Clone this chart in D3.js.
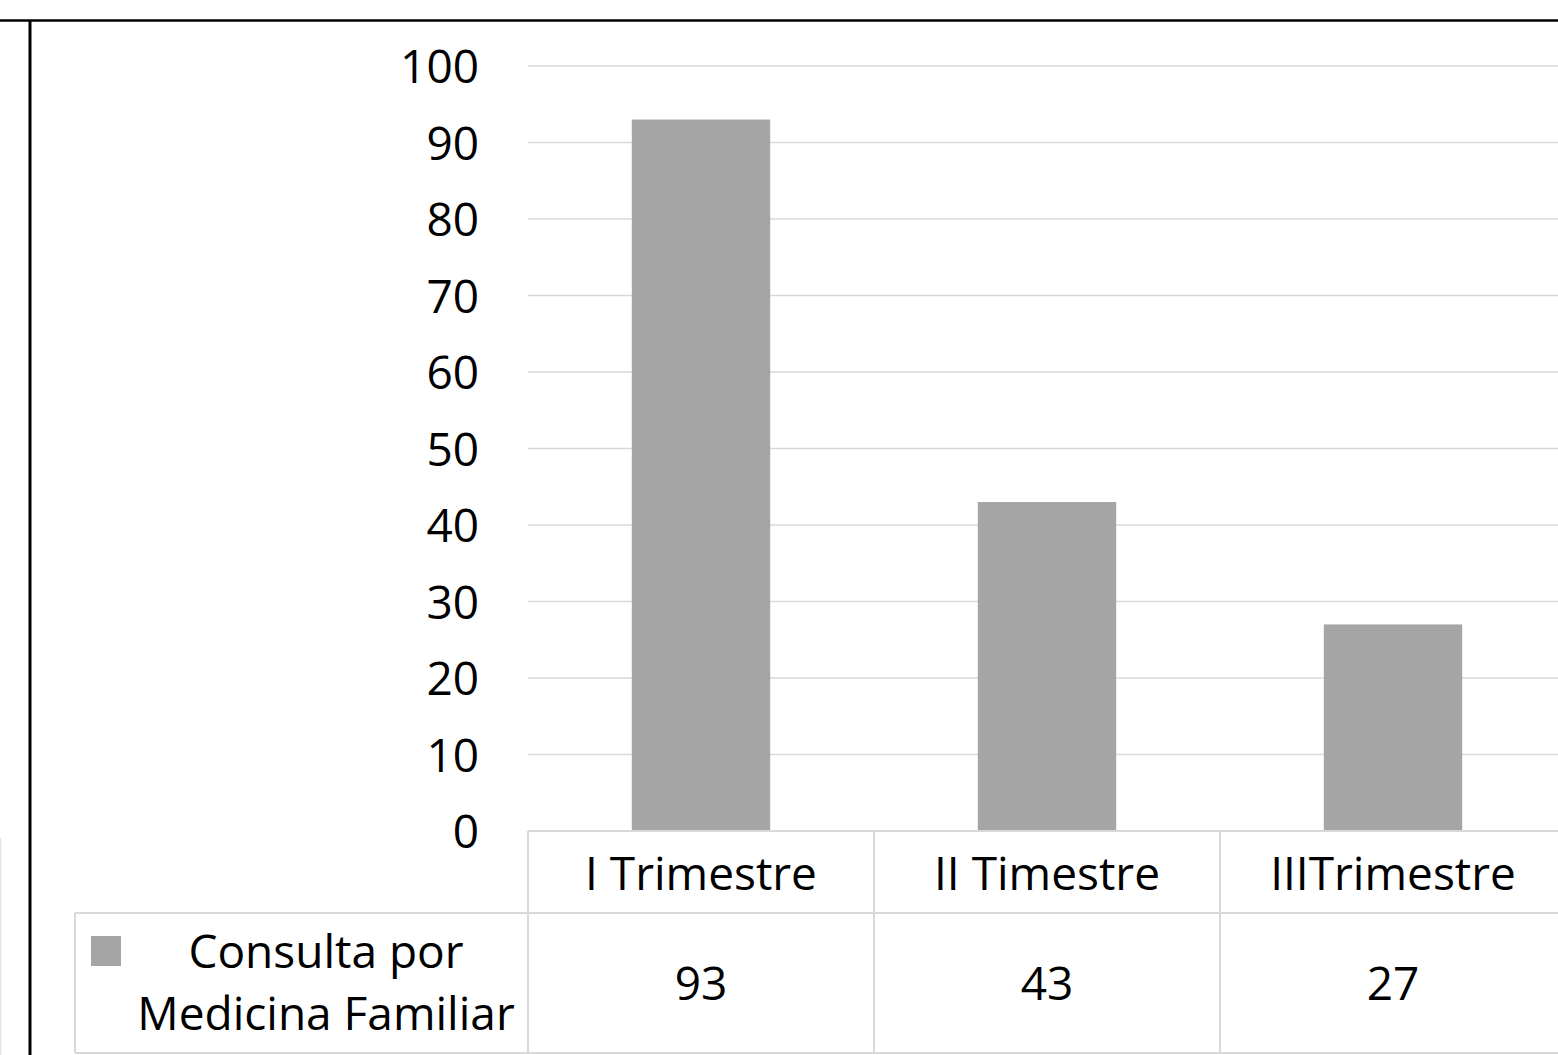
<!DOCTYPE html>
<html>
<head>
<meta charset="utf-8">
<script src="https://cdn.jsdelivr.net/npm/d3@7"></script>
<style>
  html, body { margin: 0; padding: 0; background: #fff; overflow: hidden; }
  svg text { font-family: "Open Sans", sans-serif; fill: #000; }
</style>
</head>
<body>
<div class="graphic"></div>
<script>
var categories = ["I Trimestre", "II Timestre", "IIITrimestre"];
var seriesName = ["Consulta por", "Medicina Familiar"];
var values = [93, 43, 27];
var yTicks = [0, 10, 20, 30, 40, 50, 60, 70, 80, 90, 100];

var W = 1558, H = 1055;
var gridColor = "#d9d9d9";
var barColor = "#a5a5a5";
var fs = 46;

var svg = d3.select(".graphic").append("svg")
  .attr("width", W).attr("height", H);

var x = d3.scaleBand()
  .domain(categories)
  .range([528, 1566])
  .paddingInner(0).paddingOuter(0);

var y = d3.scaleLinear()
  .domain([0, 100])
  .range([831, 66]);

// frame
svg.append("line").attr("x1", 0).attr("x2", W).attr("y1", 20.5).attr("y2", 20.5)
  .attr("stroke", "#000").attr("stroke-width", 2.5);
svg.append("line").attr("x1", 30).attr("x2", 30).attr("y1", 20).attr("y2", H)
  .attr("stroke", "#000").attr("stroke-width", 3);
svg.append("line").attr("x1", 0.5).attr("x2", 0.5).attr("y1", 838).attr("y2", H)
  .attr("stroke", "#e3e3e3").attr("stroke-width", 1.5);

// gridlines
svg.append("g").selectAll("line")
  .data(yTicks.filter(function(d) { return d > 0; }))
  .enter().append("line")
  .attr("x1", 528).attr("x2", W)
  .attr("y1", function(d) { return y(d); })
  .attr("y2", function(d) { return y(d); })
  .attr("stroke", gridColor).attr("stroke-width", 1.6);

// y labels
svg.append("g").selectAll("text")
  .data(yTicks)
  .enter().append("text")
  .attr("x", 479)
  .attr("y", function(d) { return y(d) + 17; })
  .attr("text-anchor", "end")
  .attr("font-size", fs)
  .text(function(d) { return d; });

// bars
var bw = x.bandwidth() * 0.4;
svg.append("g").selectAll("rect")
  .data(values)
  .enter().append("rect")
  .attr("x", function(d, i) { return x(categories[i]) + (x.bandwidth() - bw) / 2; })
  .attr("y", function(d) { return y(d); })
  .attr("width", bw)
  .attr("height", function(d) { return y(0) - y(d); })
  .attr("fill", barColor);

// data table
var table = svg.append("g").attr("stroke", gridColor).attr("stroke-width", 2);
table.append("line").attr("x1", 528).attr("x2", W).attr("y1", y(0)).attr("y2", y(0));
table.append("line").attr("x1", 75).attr("x2", W).attr("y1", 913).attr("y2", 913);
table.append("line").attr("x1", 75).attr("x2", W).attr("y1", 1053).attr("y2", 1053);
table.append("line").attr("x1", 75).attr("x2", 75).attr("y1", 913).attr("y2", 1053);
table.selectAll(".col")
  .data(categories)
  .enter().append("line")
  .attr("class", "col")
  .attr("x1", function(d) { return x(d); })
  .attr("x2", function(d) { return x(d); })
  .attr("y1", y(0)).attr("y2", 1053);

svg.append("g").selectAll("text")
  .data(categories)
  .enter().append("text")
  .attr("x", function(d) { return x(d) + x.bandwidth() / 2; })
  .attr("y", 890)
  .attr("text-anchor", "middle")
  .attr("font-size", fs)
  .text(function(d) { return d; });

svg.append("g").selectAll("text")
  .data(values)
  .enter().append("text")
  .attr("x", function(d, i) { return x(categories[i]) + x.bandwidth() / 2; })
  .attr("y", 1000)
  .attr("text-anchor", "middle")
  .attr("font-size", fs)
  .text(function(d) { return d; });

// legend key
svg.append("rect").attr("x", 91).attr("y", 936).attr("width", 30).attr("height", 30)
  .attr("fill", barColor);
svg.append("g").selectAll("text")
  .data(seriesName)
  .enter().append("text")
  .attr("x", 326)
  .attr("y", function(d, i) { return 968 + i * 62; })
  .attr("text-anchor", "middle")
  .attr("font-size", fs)
  .text(function(d) { return d; });
</script>
</body>
</html>
